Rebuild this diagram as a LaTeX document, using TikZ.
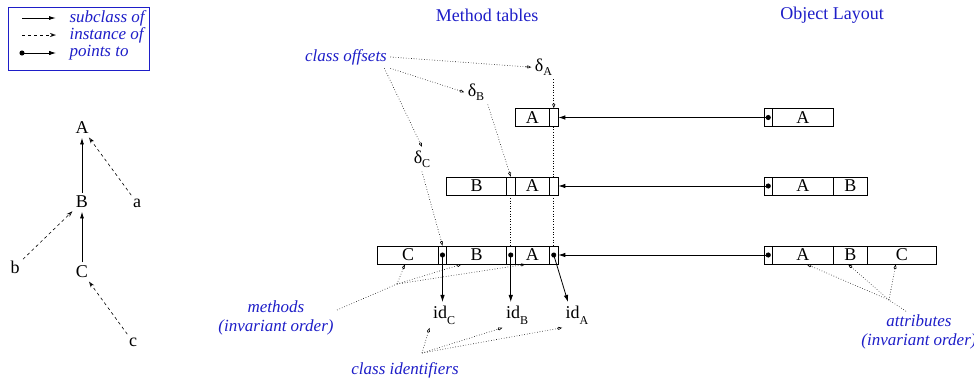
\documentclass[tikz,border=0pt]{standalone}
\usepackage{fontspec}
\setmainfont{Liberation Serif}
\usepackage{xcolor}
\usepackage{tikz}
\usetikzlibrary{arrows.meta}
\definecolor{noteblue}{RGB}{30,30,200}

\begin{document}
\begin{tikzpicture}[x=1pt,y=-1pt,
  every node/.style={font=\fontsize{18}{20}\selectfont},
  cell/.style={draw, line width=0.7pt, fill=white, minimum height=18pt, inner sep=0pt},
  note/.style={text=noteblue, font=\fontsize{17}{19}\selectfont\itshape, align=center},
  subclass/.style={line width=0.9pt, -{Latex[length=7pt,width=4pt]}},
  instance/.style={dashed, line width=0.6pt, -{Stealth[open,length=6pt,width=4pt]}},
  pointsto/.style={line width=0.8pt, {Circle[length=5pt]}-{Latex[length=7pt,width=4.5pt]}, shorten <=-2.5pt},
  annot/.style={dotted, line width=0.6pt, -{Kite[open,length=5pt,width=3pt]}},
  guide/.style={dotted, line width=0.6pt}]
  \useasboundingbox (0,0) rectangle (974,381);
  % Legend
  \draw[noteblue, line width=0.8pt] (8,7) rectangle (149,70);
  \node[note, anchor=west] (lsub) at (66,18) {subclass of};
  \node[note, anchor=west] (linst) at (66,35) {instance of};
  \node[note, anchor=west] (lptr) at (66,53) {points to};
  \coordinate (lsuba) at (22,18);  \coordinate (lsubb) at (56,18);
  \coordinate (linsta) at (22,35); \coordinate (linstb) at (56,35);
  \coordinate (lptra) at (22,53);  \coordinate (lptrb) at (56,53);
  \draw[subclass] (lsuba) -- (lsubb);
  \draw[instance] (linsta) -- (linstb);
  \draw[pointsto] (lptra) -- (lptrb);
  % Titles
  \node[text=noteblue] (mtitle) at (487,15) {Method tables};
  \node[text=noteblue] (otitle) at (832,15) {Object Layout};
  % Class hierarchy
  \node (tA) at (82,128) {A};
  \node (tB) at (82,202) {B};
  \node (tC) at (82,272) {C};
  \node (ta) at (137,203) {a};
  \node (tb) at (15,267) {b};
  \node (tc) at (133,342) {c};
  \draw[subclass] (tB) -- (tA);
  \draw[subclass] (tC) -- (tB);
  \draw[instance] (ta) -- (tA);
  \draw[instance] (tb) -- (tB);
  \draw[instance] (tc) -- (tC);
  % Method table of A
  \node[cell, minimum width=34.5pt] (aA) at (532.25,117.5) {A};
  \node[cell, minimum width=8.5pt] (aoA) at (553.75,117.5) {};
  % Method table of B
  \node[cell, minimum width=60pt] (bB) at (476.5,186) {B};
  \node[cell, minimum width=8.5pt] (boB) at (510.75,186) {};
  \node[cell, minimum width=34.5pt] (bA) at (532.25,186) {A};
  \node[cell, minimum width=8.5pt] (boA) at (553.75,186) {};
  % Method table of C
  \node[cell, minimum width=61pt] (cC) at (408,255) {C};
  \node[cell, minimum width=8pt] (coC) at (442.5,255) {};
  \node[cell, minimum width=60pt] (cB) at (476.5,255) {B};
  \node[cell, minimum width=8.5pt] (coB) at (510.75,255) {};
  \node[cell, minimum width=34.5pt] (cA) at (532.25,255) {A};
  \node[cell, minimum width=8.5pt] (coA) at (553.75,255) {};
  % Object of A
  \node[cell, minimum width=8.5pt] (xaP) at (768.25,117.5) {};
  \node[cell, minimum width=60.5pt] (xaA) at (802.75,117.5) {A};
  % Object of B
  \node[cell, minimum width=8.5pt] (xbP) at (768.25,186) {};
  \node[cell, minimum width=60.5pt] (xbA) at (802.75,186) {A};
  \node[cell, minimum width=34.5pt] (xbB) at (850.25,186) {B};
  % Object of C
  \node[cell, minimum width=8.5pt] (xcP) at (768.25,255) {};
  \node[cell, minimum width=60.5pt] (xcA) at (802.75,255) {A};
  \node[cell, minimum width=34.5pt] (xcB) at (850.25,255) {B};
  \node[cell, minimum width=68.5pt] (xcC) at (901.75,255) {C};
  % Objects point to their tables
  \draw[pointsto] (xaP.center) -- (aoA.east);
  \draw[pointsto] (xbP.center) -- (boA.east);
  \draw[pointsto] (xcP.center) -- (coA.east);
  % Class identifiers
  \node[anchor=base] (idC) at (444,318) {id\raisebox{-0.75ex}{\fontsize{12}{12}\selectfont C}};
  \node[anchor=base] (idB) at (517,318) {id\raisebox{-0.75ex}{\fontsize{12}{12}\selectfont B}};
  \node[anchor=base] (idA) at (577,318) {id\raisebox{-0.75ex}{\fontsize{12}{12}\selectfont A}};
  \draw[pointsto] (coC.center) -- (coC |- idC.north);
  \draw[pointsto] (coB.center) -- (coB |- idB.north);
  \draw[pointsto] (coA.center) -- ([xshift=-9pt]idA.north);
  % Class offsets
  \node[anchor=base] (dA) at (543.5,71) {δ\raisebox{-0.6ex}{\fontsize{12}{12}\selectfont A}};
  \node[anchor=base] (dB) at (476,96) {δ\raisebox{-0.6ex}{\fontsize{12}{12}\selectfont B}};
  \node[anchor=base] (dC) at (422,163) {δ\raisebox{-0.6ex}{\fontsize{12}{12}\selectfont C}};
  \node[note] (coff) at (346,57) {class offsets};
  \draw[annot] (coff.east) -- (dA.west);
  \draw[annot] (coff.south east) -- (dB.west);
  \draw[annot] ([xshift=-6pt]coff.south east) -- (dC.north);
  \draw[annot] (aoA |- dA.south) -- (aoA.north);
  \draw[annot] (dB.south east) -- (boB.north);
  \draw[annot] (dC.south) -- (coC.north);
  \draw[guide] (aoA.south) -- (boA.north);
  \draw[guide] (boA.south) -- (coA.north);
  \draw[guide] (boB.south) -- (coB.north);
  % Methods
  \node[note] (meth) at (276,318) {methods\\(invariant order)};
  \coordinate (mj) at (397,284);
  \draw[guide] ([yshift=8pt]meth.east) -- (mj);
  \draw[annot] (mj) -- ([xshift=-3pt]cC.south);
  \draw[annot] (mj) -- ([xshift=-15pt]cB.south);
  \draw[annot] (mj) -- ([xshift=-7pt]cA.south);
  % Identifiers
  \node[note] (cid) at (405,370) {class identifiers};
  \coordinate (cj) at (422,353);
  \draw[annot] (cj) -- (idC.south west);
  \draw[annot] (cj) -- (idB.south west);
  \draw[annot] (cj) -- (idA.south west);
  % Attributes
  \node[note] (attr) at (919,332) {attributes\\(invariant order)};
  \coordinate (aj) at (889,300);
  \draw[guide] ([xshift=-13pt]attr.north) -- (aj);
  \draw[annot] (aj) -- ([xshift=4pt]xcA.south);
  \draw[annot] (aj) -- ([xshift=-2pt]xcB.south);
  \draw[annot] (aj) -- ([xshift=-6pt]xcC.south);
\end{tikzpicture}
\end{document}
